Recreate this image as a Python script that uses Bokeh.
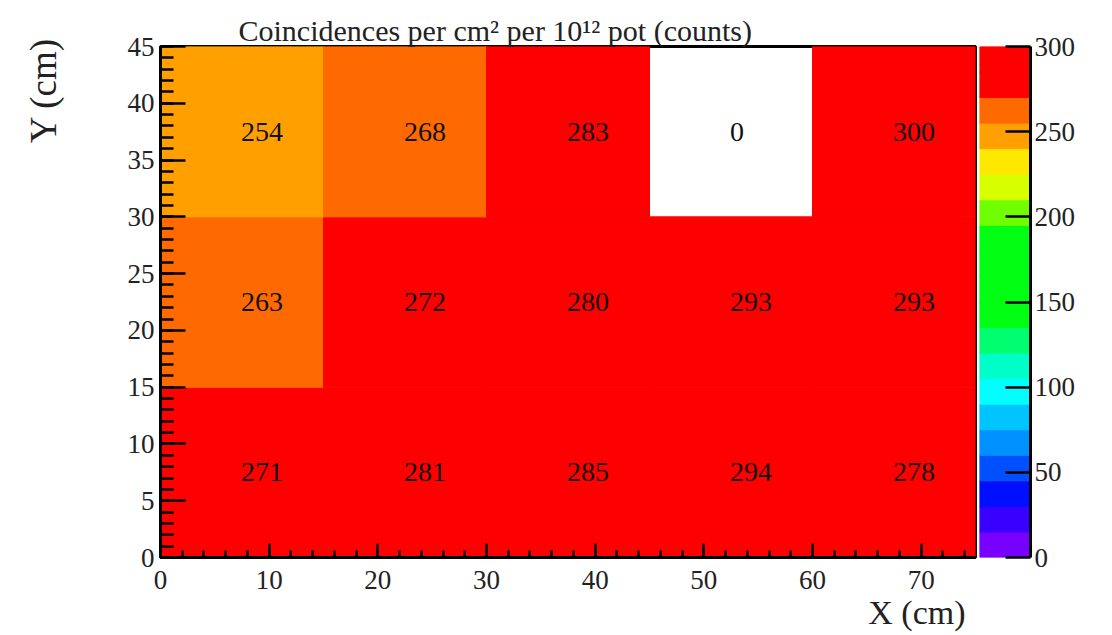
from bokeh.plotting import figure
from bokeh.layouts import row
from bokeh.models import (ColumnDataSource, Range1d, LinearAxis, SingleIntervalTicker,
                          Title, LinearColorMapper)
from bokeh.transform import transform
from bokeh.core.properties import value
from bokeh.embed import file_html
from bokeh.resources import INLINE

# 15 cm x 15 cm cells of the detector plane
x_edges = [0, 15, 30, 45, 60, 75]
y_edges = [0, 15, 30, 45]

# coincidence counts per cell, one list per row (bottom row first)
row_0_15 = [271, 281, 285, 294, 278]
row_15_30 = [263, 272, 280, 293, 293]
row_30_45 = [254, 268, 283, 0, 300]

# colour scale: 20 contour bands from 0 to 300
z_min, z_max = 0, 300
band_colors = [
    "#7700FF", "#3A00FF", "#0010FF", "#0050FF", "#0090FF",
    "#00C4FF", "#00FFFF", "#00FFC8", "#00FF70", "#00FF12",
    "#00FF12", "#00FF12", "#00FF12", "#70FF00", "#D8FF00",
    "#FFE800", "#FFA000", "#FF6A00", "#FF0000", "#FF0000",
]
cbar_ticks_step = 50

title_text = "Coincidences per cm\u00b2 per 10\u00b9\u00b2 pot (counts)"
x_title = "X (cm)"
y_title = "Y (cm)"

SERIF = "Liberation Serif"
INK = "#222222"

rows = [row_0_15, row_15_30, row_30_45]
xc, yc, w, h, z, lab = [], [], [], [], [], []
for j, vals in enumerate(rows):
    for i, v in enumerate(vals):
        xc.append((x_edges[i] + x_edges[i + 1]) / 2)
        yc.append((y_edges[j] + y_edges[j + 1]) / 2)
        w.append(x_edges[i + 1] - x_edges[i])
        h.append(y_edges[j + 1] - y_edges[j])
        z.append(v)
        lab.append(str(v))

all_cells = ColumnDataSource(dict(x=xc, y=yc, w=w, h=h, z=z, label=lab))
# empty cells are left unpainted
keep = [k for k, v in enumerate(z) if v > 0]
filled = ColumnDataSource(dict(
    x=[xc[k] for k in keep], y=[yc[k] for k in keep],
    w=[w[k] for k in keep], h=[h[k] for k in keep], z=[z[k] for k in keep],
))

mapper = LinearColorMapper(palette=band_colors, low=z_min, high=z_max)

FRAME_TOP, FRAME_BOTTOM = 46, 78

p = figure(width=979, height=635, x_range=Range1d(x_edges[0], x_edges[-1]),
           y_range=Range1d(y_edges[0], y_edges[-1]),
           output_backend="svg", toolbar_location=None,
           min_border_left=160, min_border_right=4,
           min_border_top=FRAME_TOP, min_border_bottom=FRAME_BOTTOM)
p.grid.visible = False
p.outline_line_color = "black"
p.outline_line_width = 3
p.background_fill_color = "white"
p.border_fill_color = "white"

p.rect(x="x", y="y", width="w", height="h", source=filled,
       fill_color=transform("z", mapper), line_color=transform("z", mapper), line_width=1)
p.text(x="x", y="y", text="label", source=all_cells,
       text_align="left", text_baseline="alphabetic", x_offset=-1,
       text_font=value(SERIF), text_font_size="28px", text_color="#111111")

xa = p.xaxis[0]
xa.ticker = SingleIntervalTicker(interval=10, num_minor_ticks=5)
xa.major_tick_in, xa.major_tick_out = 14, 0
xa.minor_tick_in, xa.minor_tick_out = 7, 0
ya = p.yaxis[0]
ya.ticker = SingleIntervalTicker(interval=5, num_minor_ticks=5)
ya.major_tick_in, ya.major_tick_out = 25, 0
ya.minor_tick_in, ya.minor_tick_out = 13, 0
for ax in (xa, ya):
    ax.axis_line_color = "black"
    ax.axis_line_width = 3
    ax.major_tick_line_width = 2.5
    ax.minor_tick_line_width = 2.5
    ax.major_tick_line_color = "black"
    ax.minor_tick_line_color = "black"
    ax.major_label_text_font = SERIF
    ax.major_label_text_font_size = "27px"
    ax.major_label_text_color = INK
xa.major_label_standoff = 13
ya.major_label_standoff = 6

# histogram title and axis titles
p.add_layout(Title(text=title_text, align="left", offset=78, standoff=0,
                   text_font=SERIF, text_font_size="30px", text_font_style="normal",
                   text_color=INK), "above")
p.add_layout(Title(text=x_title, align="right", offset=10, standoff=0,
                   text_font=SERIF, text_font_size="34px", text_font_style="normal",
                   text_color=INK), "below")
# blank spacer pushes the Y title out towards the page edge
p.add_layout(Title(text=" ", standoff=58, text_font_size="1px"), "left")
p.add_layout(Title(text=y_title, align="right", offset=-9, standoff=0,
                   text_font=SERIF, text_font_size="37px", text_font_style="normal",
                   text_color=INK), "left")

# colour scale panel
n_bands = len(band_colors)
bands_lo = [z_min + k * (z_max - z_min) / n_bands for k in range(n_bands)]
bands_hi = [z_min + (k + 1) * (z_max - z_min) / n_bands for k in range(n_bands)]
cb = figure(width=133, height=635, x_range=Range1d(0, 1), y_range=Range1d(z_min, z_max),
            output_backend="svg", toolbar_location=None,
            x_axis_location=None, y_axis_location=None,
            min_border_left=0, min_border_right=82,
            min_border_top=FRAME_TOP, min_border_bottom=FRAME_BOTTOM)
cb.grid.visible = False
cb.outline_line_color = None
cb.border_fill_color = "white"
cb.quad(left=0, right=1, bottom=bands_lo, top=bands_hi, fill_color=band_colors,
        line_color=band_colors, line_width=1)
cax = LinearAxis(ticker=SingleIntervalTicker(interval=cbar_ticks_step, num_minor_ticks=0))
cax.major_tick_in, cax.major_tick_out = 25, 0
cax.minor_tick_in, cax.minor_tick_out = 0, 0
cax.axis_line_width = 3
cax.major_tick_line_width = 2.5
cax.major_label_text_font = SERIF
cax.major_label_text_font_size = "27px"
cax.major_label_text_color = INK
cax.major_label_standoff = 4
cb.add_layout(cax, "right")

layout = row(p, cb)
open("out.html", "w").write(file_html(layout, INLINE))
